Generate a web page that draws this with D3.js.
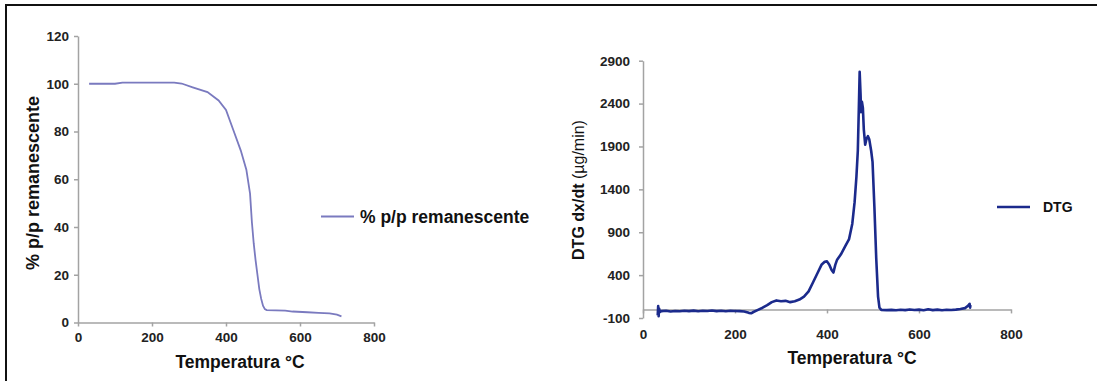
<!DOCTYPE html>
<html>
<head>
<meta charset="utf-8">
<script src="https://cdn.jsdelivr.net/npm/d3@7"></script>
<style>
  body { margin: 0; background: #fff; }
  svg { display: block; font-family: "Liberation Sans", Arial, sans-serif; }
  .axis path, .axis line { stroke: #a3a3a3; stroke-width: 1.5; }
  .axis text { font-weight: bold; font-size: 13.5px; fill: #222; }
</style>
</head>
<body>
<div id="chart"></div>
<script>
// TGA curve: temperature (°C) vs % p/p remanescente
const tgaTemp = [30, 100, 120, 260, 280, 310, 350, 380, 400, 420, 440, 455, 465, 470, 475, 480, 485, 490, 495, 500, 505, 510, 560, 580, 620, 650, 680, 700, 712];
const tgaVal  = [100, 100, 100.5, 100.5, 100.1, 98.5, 96.5, 93, 89, 80.5, 72, 64, 54, 42, 33, 26, 20, 14, 10, 7, 5.6, 5.2, 5, 4.6, 4.3, 4, 3.8, 3.3, 2.6];

// DTG curve: temperature (°C) vs dx/dt (µg/min)
const dtgTemp = [32, 33, 34, 35, 37, 40, 50, 60, 70, 80, 90, 100, 110, 120, 130, 140, 150, 160, 170, 180, 190, 200, 210, 220, 230, 235, 240, 250, 260, 270, 280, 290, 300, 310, 320, 330, 340, 350, 360, 370, 380, 388, 395, 400, 405, 410, 414, 418, 422, 430, 440, 448, 455, 460, 464, 467, 469, 471, 473, 474, 476, 478, 480, 483, 486, 489, 492, 496, 499, 503, 507, 511, 514, 518, 530, 540, 550, 560, 570, 580, 590, 600, 610, 620, 630, 640, 650, 660, 670, 680, 690, 700, 706, 710, 711, 712];
const dtgVal  = [-70, 40, -80, 10, -30, -20, -15, -25, -18, -22, -15, -20, -14, -22, -16, -18, -12, -20, -16, -22, -15, -18, -20, -25, -40, -45, -30, -5, 20, 50, 85, 105, 95, 100, 85, 95, 115, 150, 210, 320, 430, 520, 555, 560, 520, 460, 430, 520, 580, 640, 740, 820, 1000, 1250, 1550, 1850, 2300, 2770, 2500, 2300, 2420, 2350, 2100, 1920, 1990, 2020, 1980, 1850, 1720, 1200, 600, 150, 20, -5, -8, -5, -10, -3, -8, 0, -6, -2, -10, 2, -8, -2, -10, -4, -6, -2, 5, 15, 40, 65, 20, 50];

const xTicks = [0, 200, 400, 600, 800];
const tgaYTicks = [0, 20, 40, 60, 80, 100, 120];
const dtgYTicks = [-100, 400, 900, 1400, 1900, 2400, 2900];

const W = 1097, H = 381;
const fmt = d => String(d);   // plain labels, ascii minus
const svg = d3.select("#chart").append("svg").attr("width", W).attr("height", H);

// frame (top and left edges only)
svg.append("path").attr("d", "M6,381 V5 H1097").attr("fill", "none").attr("stroke", "#111").attr("stroke-width", 2);

// ---------- left chart (TGA) ----------
const xL = d3.scaleLinear().domain([0, 800]).range([78, 374]);
const yL = d3.scaleLinear().domain([0, 120]).range([322.5, 36]);

svg.append("g").attr("class", "axis")
  .attr("transform", "translate(" + xL(0) + ",0)")
  .call(d3.axisLeft(yL).tickValues(tgaYTicks).tickFormat(fmt).tickSize(4).tickSizeOuter(0).tickPadding(5));

svg.append("g").attr("class", "axis")
  .attr("transform", "translate(0," + yL(0) + ")")
  .call(d3.axisBottom(xL).tickValues(xTicks).tickFormat(fmt).tickSize(4).tickSizeOuter(0).tickPadding(6));

const tgaData = tgaTemp.map((t, i) => [t, tgaVal[i]]);
svg.append("path")
  .datum(tgaData)
  .attr("fill", "none")
  .attr("stroke", "#7a7abf")
  .attr("stroke-width", 1.8)
  .attr("d", d3.line().x(d => xL(d[0])).y(d => yL(d[1])));

svg.append("text")
  .attr("x", 240).attr("y", 368)
  .attr("text-anchor", "middle")
  .style("font-weight", "bold").style("font-size", "17.5px").style("fill", "#111")
  .text("Temperatura °C");

svg.append("text")
  .attr("transform", "translate(39,183) rotate(-90)")
  .attr("text-anchor", "middle")
  .style("font-weight", "bold").style("font-size", "18px").style("fill", "#111")
  .text("% p/p remanescente");

// legend
svg.append("line").attr("x1", 321).attr("x2", 354).attr("y1", 216.5).attr("y2", 216.5)
  .attr("stroke", "#7a7abf").attr("stroke-width", 2);
svg.append("text").attr("x", 360).attr("y", 223)
  .style("font-weight", "bold").style("font-size", "17.5px").style("fill", "#111")
  .text("% p/p remanescente");

// ---------- right chart (DTG) ----------
const xR = d3.scaleLinear().domain([0, 800]).range([643, 1011]);
const yR = d3.scaleLinear().domain([-100, 2900]).range([318, 60.7]);

svg.append("g").attr("class", "axis")
  .attr("transform", "translate(" + xR(0) + ",0)")
  .call(d3.axisLeft(yR).tickValues(dtgYTicks).tickFormat(fmt).tickSize(4).tickSizeOuter(0).tickPadding(9));

svg.append("g").attr("class", "axis")
  .attr("transform", "translate(0," + yR(0) + ")")
  .call(d3.axisBottom(xR).tickValues(xTicks).tickFormat(fmt).tickSize(4).tickSizeOuter(0).tickPadding(16));

const dtgData = dtgTemp.map((t, i) => [t, dtgVal[i]]);
svg.append("path")
  .datum(dtgData)
  .attr("fill", "none")
  .attr("stroke", "#1b2a8c")
  .attr("stroke-width", 2.6)
  .attr("stroke-linejoin", "round")
  .attr("d", d3.line().x(d => xR(d[0])).y(d => yR(d[1])));

svg.append("text")
  .attr("x", 852).attr("y", 364)
  .attr("text-anchor", "middle")
  .style("font-weight", "bold").style("font-size", "17.5px").style("fill", "#111")
  .text("Temperatura °C");

const yTitle = svg.append("text")
  .attr("transform", "translate(584,190) rotate(-90)")
  .attr("text-anchor", "middle")
  .style("font-size", "16px").style("fill", "#111");
yTitle.append("tspan").style("font-weight", "bold").text("DTG dx/dt ");
yTitle.append("tspan").text("(µg/min)");

svg.append("line").attr("x1", 997).attr("x2", 1030).attr("y1", 207).attr("y2", 207)
  .attr("stroke", "#1b2a8c").attr("stroke-width", 2.6);
svg.append("text").attr("x", 1043).attr("y", 212)
  .style("font-weight", "bold").style("font-size", "14px").style("fill", "#111")
  .text("DTG");
</script>
</body>
</html>
